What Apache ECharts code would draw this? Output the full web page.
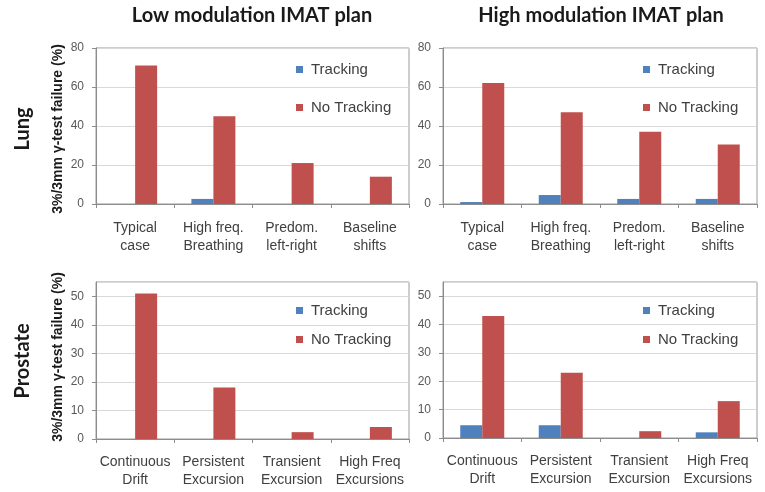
<!DOCTYPE html>
<html>
<head>
<meta charset="utf-8">
<script src="https://cdn.jsdelivr.net/npm/echarts@6/dist/echarts.min.js"></script>
<style>html,body{margin:0;padding:0;background:#fff}#c{width:765px;height:492px}</style>
</head>
<body>
<div id="c"></div>
<script>
const lungCategories = ['Typical\ncase', 'High freq.\nBreathing', 'Predom.\nleft-right', 'Baseline\nshifts'];
const prostateCategories = ['Continuous\nDrift', 'Persistent\nExcursion', 'Transient\nExcursion', 'High Freq\nExcursions'];
const seriesNames = ['Tracking', 'No Tracking'];

const lungLowTracking = [0, 2.6, 0, 0];
const lungLowNoTracking = [71, 45, 21, 14];
const lungHighTracking = [1, 4.6, 2.6, 2.6];
const lungHighNoTracking = [62, 47, 37, 30.5];
const prostateLowTracking = [0, 0, 0, 0];
const prostateLowNoTracking = [51, 18, 2.4, 4.2];
const prostateHighTracking = [4.5, 4.5, 0, 2];
const prostateHighNoTracking = [43, 23, 2.4, 13];

const columnTitles = ['Low modulation IMAT plan', 'High modulation IMAT plan'];
const rowTitles = ['Lung', 'Prostate'];
const yAxisTitle = '3%/3mm \u03b3-test failure (%)';

const BLUE = '#4F81BD', RED = '#C0504D';

const grids = [
  {left: 96, top: 48, width: 313, height: 156},
  {left: 443, top: 48, width: 314, height: 156},
  {left: 96, top: 282, width: 313, height: 157},
  {left: 443, top: 282, width: 314, height: 156}
];
const panels = [
  {cats: lungCategories, t: lungLowTracking, n: lungLowNoTracking, max: 80, interval: 20, legendTop: 62, legendGap: 23, margin: 15},
  {cats: lungCategories, t: lungHighTracking, n: lungHighNoTracking, max: 80, interval: 20, legendTop: 62, legendGap: 23, margin: 15},
  {cats: prostateCategories, t: prostateLowTracking, n: prostateLowNoTracking, max: 55, interval: 10, legendTop: 303, legendGap: 14, margin: 14},
  {cats: prostateCategories, t: prostateHighTracking, n: prostateHighNoTracking, max: 55, interval: 10, legendTop: 303, legendGap: 14, margin: 14}
];

const option = {
  backgroundColor: '#fff',
  animation: false,
  grid: grids.map(g => Object.assign({show: true, borderColor: '#9a9a9a', borderWidth: 1, backgroundColor: '#fff'}, g)),
  xAxis: panels.map((p, i) => ({
    type: 'category', gridIndex: i, data: p.cats,
    axisLine: {lineStyle: {color: '#8c8c8c'}},
    axisTick: {show: true, length: 4, lineStyle: {color: '#8c8c8c'}},
    axisLabel: {interval: 0, color: '#404040', fontFamily: 'Liberation Sans', fontSize: 14, lineHeight: 18, margin: p.margin}
  })),
  yAxis: panels.map((p, i) => ({
    type: 'value', gridIndex: i, min: 0, max: p.max, interval: p.interval,
    axisLine: {show: true, lineStyle: {color: '#8c8c8c'}},
    axisTick: {show: true, length: 4, lineStyle: {color: '#8c8c8c'}},
    splitLine: {lineStyle: {color: '#d9d9d9'}},
    axisLabel: {color: '#595959', fontFamily: 'Liberation Sans', fontSize: 12, margin: 12, showMaxLabel: p.max % p.interval === 0}
  })),
  legend: panels.map((p, i) => ({
    data: seriesNames, orient: 'vertical', left: grids[i].left + 200, top: p.legendTop, padding: 0,
    itemWidth: 7, itemHeight: 7, itemGap: p.legendGap, icon: 'rect',
    textStyle: {color: '#404040', fontFamily: 'Liberation Sans', fontSize: 15, padding: [0, 0, 0, 3]}
  })),
  series: [].concat(...panels.map((p, i) => ([
    {name: seriesNames[0], type: 'bar', xAxisIndex: i, yAxisIndex: i, data: p.t, barWidth: 22, barGap: '0%', itemStyle: {color: BLUE}},
    {name: seriesNames[1], type: 'bar', xAxisIndex: i, yAxisIndex: i, data: p.n, barWidth: 22, barGap: '0%', itemStyle: {color: RED}}
  ]))),
  graphic: [
    {type: 'text', x: 252, y: 16, style: {text: columnTitles[0], font: 'bold 20px Lato', fill: '#1a1a1a', align: 'center', verticalAlign: 'middle', textAlign: 'center', textVerticalAlign: 'middle'}},
    {type: 'text', x: 601, y: 16, style: {text: columnTitles[1], font: 'bold 20px Lato', fill: '#1a1a1a', align: 'center', verticalAlign: 'middle', textAlign: 'center', textVerticalAlign: 'middle'}},
    {type: 'text', x: 23, y: 129, rotation: Math.PI / 2, style: {text: rowTitles[0], font: 'bold 20px Lato', fill: '#1a1a1a', align: 'center', verticalAlign: 'middle', textAlign: 'center', textVerticalAlign: 'middle'}},
    {type: 'text', x: 23, y: 361, rotation: Math.PI / 2, style: {text: rowTitles[1], font: 'bold 20px Lato', fill: '#1a1a1a', align: 'center', verticalAlign: 'middle', textAlign: 'center', textVerticalAlign: 'middle'}},
    {type: 'text', x: 58, y: 129, rotation: Math.PI / 2, style: {text: yAxisTitle, font: 'bold 14px Liberation Sans', fill: '#1a1a1a', align: 'center', verticalAlign: 'middle', textAlign: 'center', textVerticalAlign: 'middle'}},
    {type: 'text', x: 58, y: 357, rotation: Math.PI / 2, style: {text: yAxisTitle, font: 'bold 14px Liberation Sans', fill: '#1a1a1a', align: 'center', verticalAlign: 'middle', textAlign: 'center', textVerticalAlign: 'middle'}}
  ]
};
echarts.init(document.getElementById('c'), null, {renderer: 'canvas'}).setOption(option);
</script>
</body>
</html>
